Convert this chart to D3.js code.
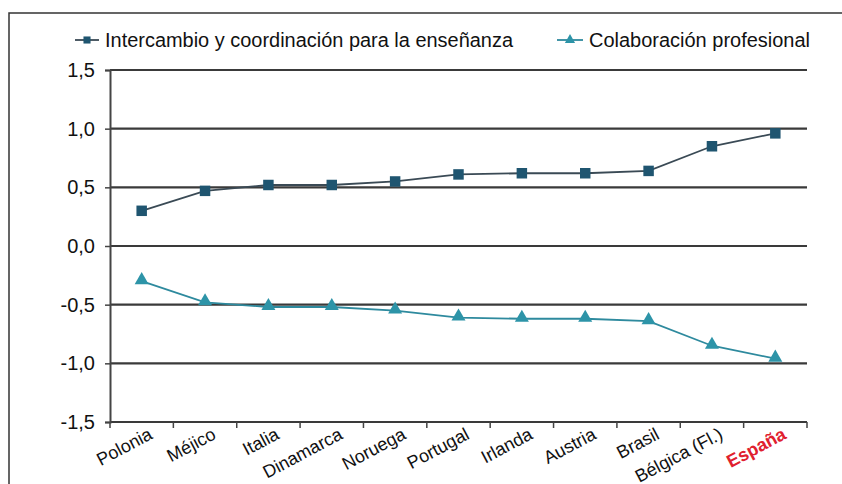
<!DOCTYPE html>
<html>
<head>
<meta charset="utf-8">
<script src="https://d3js.org/d3.v7.min.js"></script>
<style>
  body { margin: 0; background: #fff; }
  text { font-family: "Liberation Sans", Arial, sans-serif; }
</style>
</head>
<body>
<div id="chart"></div>
<script>
/* data */
var countries = ["Polonia", "Méjico", "Italia", "Dinamarca", "Noruega", "Portugal", "Irlanda", "Austria", "Brasil", "Bélgica (Fl.)", "España"];
var intercambio = [0.30, 0.47, 0.52, 0.52, 0.55, 0.61, 0.62, 0.62, 0.64, 0.85, 0.96];
var colaboracion = [-0.30, -0.48, -0.52, -0.52, -0.55, -0.61, -0.62, -0.62, -0.64, -0.85, -0.96];
var yTicks = [-1.5, -1.0, -0.5, 0.0, 0.5, 1.0, 1.5];
var seriesNames = ["Intercambio y coordinación para la enseñanza", "Colaboración profesional"];

var totalWidth = 842, totalHeight = 484;
var margin = {top: 70, right: 35, bottom: 62, left: 110};

var svg = d3.select("#chart").append("svg")
    .attr("width", totalWidth)
    .attr("height", totalHeight);

/* outer frame */
svg.append("rect")
    .attr("x", 9).attr("y", 13)
    .attr("width", totalWidth + 10).attr("height", totalHeight + 10)
    .attr("fill", "none").attr("stroke", "#333").attr("stroke-width", 1.5);

var x = d3.scaleBand().domain(countries).range([margin.left, totalWidth - margin.right]);
var y = d3.scaleLinear().domain([-1.5, 1.5]).range([totalHeight - margin.bottom, margin.top]);

var fmt = function(d){ return d3.format(".1f")(d).replace(".", ",").replace("−", "-"); };

/* gridlines */
svg.append("g").selectAll("line")
    .data(yTicks)
    .enter().append("line")
    .attr("x1", margin.left).attr("x2", totalWidth - margin.right)
    .attr("y1", function(d){ return y(d); }).attr("y2", function(d){ return y(d); })
    .attr("stroke", "#3a3a3a").attr("stroke-width", 2.2);

/* y axis */
var yAxis = svg.append("g")
    .attr("transform", "translate(" + margin.left + ",0)")
    .call(d3.axisLeft(y).tickValues(yTicks).tickFormat(fmt).tickSize(5).tickPadding(10));
yAxis.select(".domain").attr("stroke", "#444").attr("stroke-width", 2);
yAxis.selectAll(".tick line").attr("stroke", "#444").attr("stroke-width", 1.5);
yAxis.selectAll("text").attr("font-size", 20).attr("fill", "#111")
    .style("font-family", "'Liberation Sans', Arial, sans-serif");

/* x axis */
var xTickPos = [margin.left].concat(countries.map(function(c){ return x(c) + x.bandwidth(); }));
svg.append("g").selectAll("line")
    .data(xTickPos)
    .enter().append("line")
    .attr("x1", function(d){ return d; }).attr("x2", function(d){ return d; })
    .attr("y1", y(-1.5)).attr("y2", y(-1.5) + 6)
    .attr("stroke", "#444").attr("stroke-width", 1.5);

svg.append("g").selectAll("text")
    .data(countries)
    .enter().append("text")
    .attr("transform", function(d){ return "translate(" + (x(d) + x.bandwidth() / 2 + 12) + "," + (y(-1.5) + 16) + ") rotate(-28)"; })
    .attr("text-anchor", "end")
    .attr("font-size", 18)
    .attr("fill", function(d){ return d == "España" ? "#e0202e" : "#111"; })
    .attr("font-weight", function(d){ return d == "España" ? "bold" : "normal"; })
    .text(function(d){ return d; });

/* lines */
var line = d3.line()
    .x(function(d, i){ return x(countries[i]) + x.bandwidth() / 2; })
    .y(function(d){ return y(d); });

svg.append("path").datum(intercambio)
    .attr("d", line).attr("fill", "none").attr("stroke", "#3a4a55").attr("stroke-width", 1.8);
svg.append("path").datum(colaboracion)
    .attr("d", line).attr("fill", "none").attr("stroke", "#2e8a9e").attr("stroke-width", 1.8);

var sq = d3.symbol().type(d3.symbolSquare).size(110);
var tri = d3.symbol().type(d3.symbolTriangle).size(85);

svg.append("g").selectAll("path")
    .data(intercambio)
    .enter().append("path")
    .attr("d", sq)
    .attr("transform", function(d, i){ return "translate(" + (x(countries[i]) + x.bandwidth() / 2) + "," + y(d) + ")"; })
    .attr("fill", "#1f5570");

svg.append("g").selectAll("path")
    .data(colaboracion)
    .enter().append("path")
    .attr("d", tri)
    .attr("transform", function(d, i){ return "translate(" + (x(countries[i]) + x.bandwidth() / 2) + "," + (y(d) - 1) + ")"; })
    .attr("fill", "#2d94a8");

/* legend */
var legend = svg.append("g").attr("transform", "translate(0,40)");
legend.append("line").attr("x1", 75).attr("x2", 99).attr("y1", 0).attr("y2", 0)
    .attr("stroke", "#3a4a55").attr("stroke-width", 1.8);
legend.append("path").attr("d", d3.symbol().type(d3.symbolSquare).size(50))
    .attr("transform", "translate(87,0)").attr("fill", "#1f5570");
legend.append("text").attr("x", 105).attr("y", 7).attr("font-size", 20).attr("fill", "#111")
    .attr("textLength", 408).attr("lengthAdjust", "spacingAndGlyphs")
    .text(seriesNames[0]);

legend.append("line").attr("x1", 557).attr("x2", 583).attr("y1", 0).attr("y2", 0)
    .attr("stroke", "#2e8a9e").attr("stroke-width", 1.8);
legend.append("path").attr("d", d3.symbol().type(d3.symbolTriangle).size(45))
    .attr("transform", "translate(570,0)").attr("fill", "#2d94a8");
legend.append("text").attr("x", 589).attr("y", 7).attr("font-size", 20).attr("fill", "#111")
    .attr("textLength", 221).attr("lengthAdjust", "spacingAndGlyphs")
    .text(seriesNames[1]);
</script>
</body>
</html>
